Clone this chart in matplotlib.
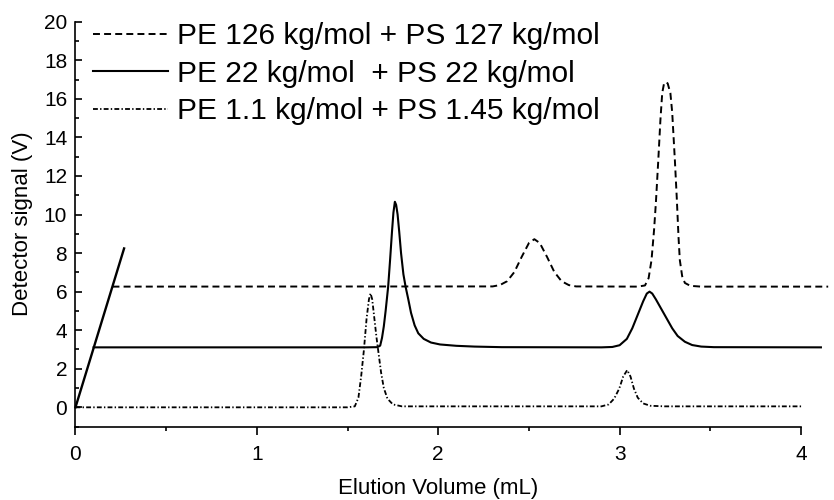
import numpy as np
import matplotlib
matplotlib.use("Agg")
import matplotlib.pyplot as plt
from matplotlib.ticker import MultipleLocator

plt.rcParams["font.family"] = ["Liberation Sans", "DejaVu Sans"]
plt.rcParams["lines.scale_dashes"] = False

# PE 126 kg/mol + PS 127 kg/mol (dashed)
x_126 = [0.204, 2.30, 2.34, 2.38, 2.42, 2.46, 2.50, 2.53, 2.56, 2.60, 2.64, 2.68, 2.72, 2.76,
         3.10, 3.14, 3.16, 3.176, 3.19, 3.20, 3.213, 3.225, 3.235, 3.245, 3.255, 3.265, 3.28,
         3.29, 3.305, 3.315, 3.325, 3.332, 3.345, 3.36, 3.39, 3.45, 4.15]
y_126 = [6.26, 6.27, 6.34, 6.54, 7.02, 7.80, 8.52, 8.72, 8.52, 7.80, 7.02, 6.54, 6.34, 6.27,
         6.26, 6.32, 6.70, 7.64, 9.2, 10.6, 12.77, 14.9, 16.3, 16.8, 16.87, 16.8, 16.3,
         15.3, 12.77, 10.9, 8.8, 7.64, 6.8, 6.45, 6.3, 6.26, 6.26]

# PE 22 kg/mol + PS 22 kg/mol (solid)
x_22 = [0.10, 1.60, 1.665, 1.68, 1.69, 1.70, 1.71, 1.724, 1.735, 1.745, 1.753, 1.761, 1.768,
        1.776, 1.785, 1.795, 1.808, 1.82, 1.835, 1.85, 1.87, 1.89, 1.92, 1.96, 2.01, 2.10,
        2.20, 2.35, 2.90, 2.96, 3.00, 3.04, 3.07, 3.10, 3.13, 3.15, 3.165, 3.18, 3.20, 3.23,
        3.26, 3.29, 3.32, 3.36, 3.40, 3.45, 3.52, 4.11]
y_22 = [3.11, 3.11, 3.12, 3.2, 3.6, 4.2, 5.0, 6.26, 7.7, 9.1, 10.1, 10.66, 10.5,
        10.0, 9.1, 8.0, 6.9, 6.26, 5.6, 4.9, 4.25, 3.84, 3.55, 3.36, 3.26, 3.19,
        3.15, 3.12, 3.11, 3.13, 3.22, 3.55, 4.1, 4.8, 5.5, 5.9, 6.0, 5.9, 5.6, 5.1,
        4.6, 4.1, 3.7, 3.4, 3.23, 3.15, 3.12, 3.11]

# PE 1.1 kg/mol + PS 1.45 kg/mol (dash-dot)
x_11 = [0.0, 1.50, 1.54, 1.56, 1.575, 1.59, 1.605, 1.618, 1.627, 1.636, 1.648, 1.66, 1.669,
        1.685, 1.70, 1.72, 1.75, 1.80, 2.90, 2.94, 2.97, 2.998, 3.02, 3.042, 3.06, 3.079,
        3.10, 3.13, 3.17, 3.25, 4.01]
y_11 = [0.0, 0.0, 0.05, 0.5, 1.6, 2.95, 4.6, 5.6, 5.91, 5.6, 4.6, 3.6, 2.95,
        1.8, 1.0, 0.45, 0.15, 0.05, 0.05, 0.15, 0.45, 0.97, 1.6, 1.93, 1.6, 0.97,
        0.5, 0.2, 0.08, 0.05, 0.05]

# offset guide line at the start
x_guide = [0.0, 0.268]
y_guide = [0.0, 8.24]

labels = ["PE 126 kg/mol + PS 127 kg/mol",
          "PE 22 kg/mol  + PS 22 kg/mol",
          "PE 1.1 kg/mol + PS 1.45 kg/mol"]

fig = plt.figure(figsize=(8.34, 5.0), dpi=100)
ax = fig.add_axes([0.0905, 0.1468, 0.8699, 0.8098])

ax.plot(x_126, y_126, color="black", lw=1.4, linestyle=(0, (5.0, 3.0)), label=labels[0], clip_on=False)
ax.plot(x_22, y_22, color="black", lw=1.5, linestyle="-", label=labels[1], clip_on=False)
ax.plot(x_11, y_11, color="black", lw=1.3, linestyle=(0, (3.5, 1.6, 1.0, 1.6)), label=labels[2], clip_on=False)
ax.plot(x_guide, y_guide, color="black", lw=1.7, clip_on=False)

ax.set_xlim(0, 4)
ax.set_ylim(-1, 20)
ax.spines["top"].set_visible(False)
ax.spines["right"].set_visible(False)
for s in ["left", "bottom"]:
    ax.spines[s].set_linewidth(1.2)

ax.xaxis.set_major_locator(MultipleLocator(1))
ax.xaxis.set_minor_locator(MultipleLocator(0.5))
ax.yaxis.set_minor_locator(MultipleLocator(1))
ax.set_yticks(np.arange(0, 21, 2))
ax.tick_params(axis="x", which="major", direction="out", length=6, width=1.2, labelsize=15, pad=7)
ax.tick_params(axis="x", which="minor", direction="out", length=3, width=1.2)
ax.tick_params(axis="y", which="major", direction="in", length=5, width=1.2, labelsize=15, pad=6)
ax.tick_params(axis="y", which="minor", direction="in", length=3, width=1.2)

ax.set_xlabel("Elution Volume (mL)", fontsize=16, labelpad=10.5)
ax.set_ylabel("Detector signal (V)", fontsize=16, labelpad=8)

leg = ax.legend(loc="upper left", bbox_to_anchor=(93 / 834, 1 - 22 / 500),
                bbox_transform=fig.transFigure, frameon=False, fontsize=21.5,
                handlelength=2.5, handletextpad=0.3, labelspacing=0.32,
                borderpad=0, borderaxespad=0)

fig.savefig("out.png", dpi=100)
